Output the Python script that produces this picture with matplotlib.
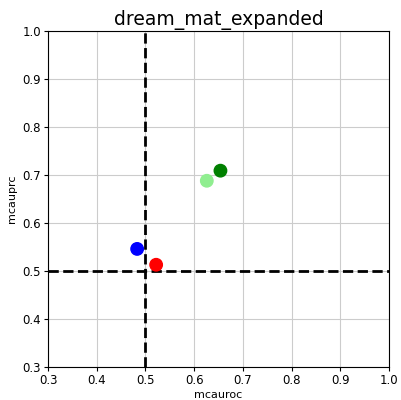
import matplotlib
matplotlib.use("Agg")
import matplotlib.pyplot as plt

mcauroc = [0.483, 0.522, 0.626, 0.654]
mcauprc = [0.546, 0.513, 0.688, 0.709]
colors = ["blue", "red", "lightgreen", "green"]
ticks = [0.3, 0.4, 0.5, 0.6, 0.7, 0.8, 0.9, 1.0]

fig = plt.figure(figsize=(4.01, 4.0), dpi=100)
ax = fig.add_axes([48/401, 33/400, 341/401, 336/400])
ax.grid(True, color="#cccccc", linewidth=0.8, zorder=0)
ax.axvline(0.5, color="black", linestyle="--", linewidth=2, zorder=2)
ax.axhline(0.5, color="black", linestyle="--", linewidth=2, zorder=2)
ax.scatter(mcauroc, mcauprc, c=colors, s=80, zorder=3)
ax.set_xlim(0.3, 1.0)
ax.set_ylim(0.3, 1.0)
ax.set_xticks(ticks)
ax.set_yticks(ticks)
ax.tick_params(labelsize=8.5, length=3, pad=2)
ax.set_xlabel("mcauroc", fontsize=8, labelpad=2)
ax.set_ylabel("mcauprc", fontsize=8, labelpad=4)
ax.set_title("dream_mat_expanded", fontsize=13.5, pad=4)
fig.savefig("out.png", dpi=100)
